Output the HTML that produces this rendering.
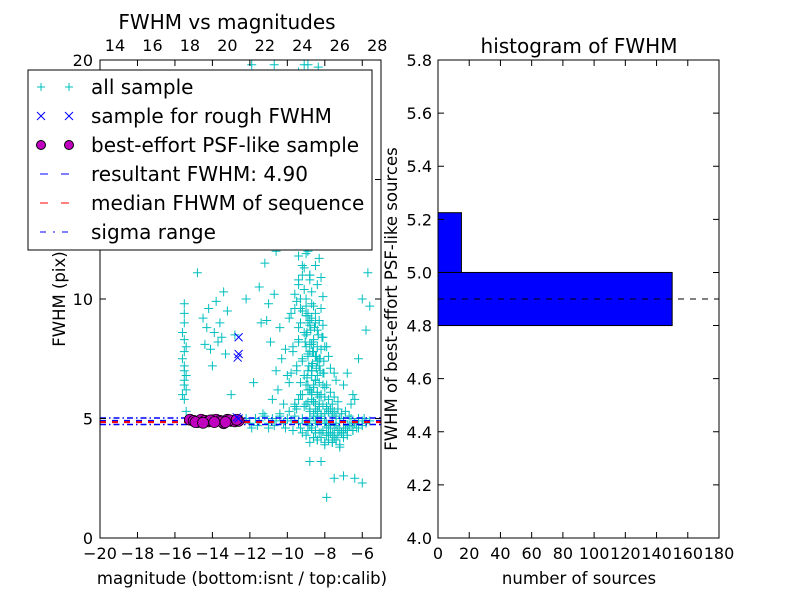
<!DOCTYPE html>
<html><head><meta charset="utf-8"><style>
body{margin:0;background:#fff;}
svg{display:block;font-family:"DejaVu Sans","Liberation Sans",sans-serif;}
</style></head><body>
<svg id="fig" width="800" height="600" viewBox="0 0 800 600">
<rect width="800" height="600" fill="#fff"/>
<g id="L"></g>
<g id="R"></g>
</svg>
<script>
// ---- left panel data ----
const allMag = [-15.5,-15.5,-15.6,-15.5,-15.4,-15.5,-15.6,-15.5,-15.5,-15.4,-15.5,-15.5,-15.4,-15.6,-15.5,-15.5,-15.4,
 -14.5,-14.3,-14.2,-14.4,-13.8,-13.6,-13.5,-13.9,-14.1,-13.3,-13.7,-12.8,-14.8,-13.4,-14.0,-13.2,-12.2,-13.0,
 -12.2,-12.0,-11.7,-11.5,-11.2,-11.0,-10.8,-10.6,-10.4,-10.2,-10.0,-9.8,-9.6,-9.4,-9.2,-9.0,-8.8,-8.6,-8.4,-8.2,-8.0,-7.8,-7.6,-7.4,-7.2,-7.0,-6.8,-6.6,-6.4,-6.2,-6.0,-5.8,-5.6,
 -11.9,-11.6,-11.3,-11.0,-10.7,-10.4,-10.1,-9.9,-9.7,-9.5,-9.3,-9.1,-8.9,-8.7,-8.5,-8.3,-8.1,-7.9,-7.7,-7.5,-7.3,-7.1,-6.9,-6.7,-6.5,-6.3,
 -9.0,-8.6,-8.2,-7.8,-7.4,-7.0,-8.8,-8.4,-8.0,-7.6,-9.2,-7.2,-6.8,-8.2,-7.5,-7.0,-6.4,-6.0,-8.8,-7.9,-6.4,
 -9.6,-9.4,-9.2,-9.0,-8.8,-8.6,-8.4,-8.2,-8.0,-7.8,-7.6,-9.3,-9.1,-8.9,-8.7,-8.5,-8.3,-8.1,-7.9,-7.7,-7.5,-7.3,
 -9.5,-9.2,-8.9,-8.6,-8.3,-8.0,-7.7,-7.4,-9.4,-9.0,-8.7,-8.4,-8.1,-7.8,-7.5,-9.3,-8.9,-8.5,-8.2,-7.9,
 -9.0,-8.7,-8.4,-8.1,-8.8,-8.5,-8.2,-8.9,-8.6,-8.3,-8.7,-8.4,-9.1,-8.8,-8.5,-8.6,-8.3,-8.8,-8.5,-8.7,-8.4,
 -10.8,-10.5,-10.2,-9.9,-10.6,-10.3,-10.0,-9.7,-10.9,-10.4,-10.1,-9.8,-11.4,-11.0,-10.7,-11.2,-11.5,-10.6,-11.8,-11.1,
 -9.6,-9.3,-9.0,-8.7,-9.8,-9.5,-9.2,-8.9,-9.7,-9.4,-9.1,-8.8,-9.9,-9.6,-9.3,-9.0,-9.4,-9.1,-8.8,-9.5,-9.2,
 -9.6,-9.0,-8.4,-10.0,-9.3,-8.8,-10.4,-9.7,-9.1,-10.2,-9.5,-8.6,-10.0,-9.4,-8.9,-11.9,-10.7,-9.1,-8.35,-8.5,
 -7.0,-6.5,-6.2,-5.8,-5.6,-6.0,-5.7,-6.8,-7.3,-6.6,
 -8.9,-8.7,-8.5,-8.3,-8.1,-8.95,-8.75,-8.55,-8.35,-8.15,-9.05,-8.8,-8.6,-8.4,-8.2,-8.9,-8.65,-8.45,-8.25,-8.05,
 -8.85,-8.65,-8.45,-8.25,-8.05,-8.95,-8.7,-8.5,-8.3,-8.1,-8.8,-8.6,-8.4,-8.2,-8.0,-8.9,-8.7,-8.5,-8.3,-7.9,
 -8.8,-8.6,-8.4,-8.2,-8.0,-7.8,-7.6,-7.4,-8.7,-8.5,-8.3,-8.1,-7.9,-7.7,-7.5,-7.3,-8.6,-8.4,-8.2,-8.0,
 -7.8,-7.6,-7.4,-7.2,-7.0,-8.5,-8.3,-8.1,-7.9,-7.7,-7.5,-7.3,-7.1,-6.9,-6.7,-9.2,-9.4,-9.0,-9.6,-9.8,
 -9.3,-9.1,-8.9,-9.5,-9.7,-9.2,-9.0,-9.4,-8.8,-9.6,-9.1,-9.3,-8.7,-9.5,-8.9,-9.2,-9.0,-8.6,-9.4,-8.8,
 -8.6,-8.8,-8.4,-8.7,-8.5,-8.9,-8.3,-8.6,-8.8,-8.4,-8.7,-8.5,-8.2,-9.0,-8.6,-8.8,-8.4,-8.7,-8.9,-8.5,
 -7.9,-7.7,-7.5,-7.3,-7.1,-6.9,-6.7,-6.5,-8.0,-7.8,-7.6,-7.4,-7.2,-7.0,-6.8,-6.6,-6.4,-6.2,-6.0,-5.9];
const allFwhm = [9.4,9.0,8.6,8.3,8.0,7.8,7.5,7.2,7.0,6.8,6.6,6.4,6.2,6.0,5.8,9.8,5.3,
 9.2,8.8,9.6,8.1,9.9,9.0,8.4,8.6,7.9,7.7,8.2,8.5,11.1,10.3,7.2,9.5,10.0,6.0,
 5.0,4.8,5.0,4.9,5.1,4.8,5.0,4.9,5.1,4.8,5.0,4.9,5.1,4.8,5.0,4.9,4.7,5.1,4.8,5.0,4.9,4.7,5.1,4.8,5.0,4.9,4.7,5.0,4.8,5.0,4.9,4.8,4.9,
 4.6,4.7,5.2,4.6,4.7,5.2,4.6,5.3,4.5,5.4,4.6,5.5,4.5,4.6,4.4,5.6,4.5,4.4,4.6,4.3,4.5,4.4,4.6,4.7,4.5,4.6,
 4.3,4.2,4.4,4.3,4.1,4.2,4.0,4.1,3.9,4.0,4.4,3.8,4.3,3.2,2.5,2.6,2.5,2.3,3.2,1.7,5.8,
 5.5,5.8,6.0,5.6,6.2,5.7,6.0,5.9,6.3,5.8,5.6,6.5,6.8,6.4,7.0,6.6,7.2,6.9,6.4,6.1,5.9,5.7,
 7.0,7.4,7.6,7.8,7.5,8.0,7.1,6.6,8.2,8.5,8.1,8.7,8.4,7.6,6.9,9.0,9.3,9.0,9.6,8.0,
 10.0,10.3,10.6,10.1,11.0,11.4,10.9,12.0,12.3,11.7,13.0,12.6,12.8,13.6,13.3,14.2,14.0,15.0,15.5,16.0,16.6,
 5.8,6.2,5.6,6.5,7.0,7.5,6.8,7.8,8.2,8.8,7.9,9.4,9.0,9.8,10.2,11.5,10.5,12.0,6.5,9.1,
 5.6,6.0,6.4,6.1,6.9,7.2,7.5,7.0,8.0,8.3,8.6,8.9,9.2,9.6,10.0,9.7,10.8,11.3,11.0,12.5,13.0,
 13.8,14.5,14.0,15.2,16.0,17.0,16.5,17.8,18.5,18.0,19.0,19.2,14.8,19.5,19.8,19.8,19.8,19.8,19.7,16.8,
 6.4,6.0,7.5,8.7,9.7,10.0,11.1,6.9,5.4,5.6,
 9.0,9.2,9.4,9.1,8.9,8.6,8.7,8.8,8.5,8.4,8.2,8.1,8.3,8.0,7.9,7.7,7.8,7.6,7.5,7.4,
 7.2,7.3,7.1,7.0,6.9,6.7,6.8,6.6,6.5,6.4,6.2,6.3,6.1,6.0,5.9,5.7,5.8,5.6,5.5,5.4,
 5.3,5.2,5.3,5.1,5.2,5.3,5.2,5.1,4.6,4.5,4.4,4.5,4.3,4.4,4.2,4.3,4.2,4.1,4.2,4.0,
 4.1,4.0,4.1,3.9,4.4,5.4,5.5,5.6,5.5,5.4,5.3,5.4,5.2,5.3,5.1,11.0,11.8,12.5,13.5,14.5,
 15.5,16.2,17.0,12.8,13.2,11.4,11.9,10.6,10.8,10.2,10.4,9.6,9.8,9.9,9.4,9.5,9.3,9.7,8.8,9.1,
 8.2,7.8,7.4,7.0,6.6,6.2,5.9,5.7,5.4,6.8,7.2,7.6,5.2,8.0,6.4,5.0,5.1,6.0,4.8,4.9,
 4.8,4.7,4.6,4.5,4.4,4.6,4.7,4.5,4.8,4.6,4.4,4.7,4.5,4.6,4.5,4.7,4.8,4.6,4.7,5.0];
const roughMag = [-12.6,-12.6,-12.65,-12.6,-12.7];
const roughFwhm = [8.4,7.7,7.55,5.0,5.05];
const psfMag = [-15.2,-15.0,-14.8,-14.6,-14.4,-14.2,-14.0,-13.8,-13.6,-13.4,-13.2,-13.0,-12.8,-12.6,-14.9,-14.1,-13.5,-13.1,-12.7,-14.5,-13.9,-13.3];
const psfFwhm = [4.95,4.9,4.85,4.95,4.9,4.88,4.92,4.95,4.9,4.8,4.95,4.9,4.88,4.9,4.85,4.92,4.87,4.93,4.95,4.82,4.85,4.85];
const resultFwhm = 4.90, medianFwhm = 4.85, sigmaLo = 4.75, sigmaHi = 5.02;
const xTicksBottom = [-20,-18,-16,-14,-12,-10,-8,-6];
const xTicksTop = [14,16,18,20,22,24,26,28];
const yTicksLeft = [0,5,10,15,20];
// ---- right panel data ----
const binEdges = [4.8,5.0,5.225];
const binCounts = [150,15];
const xTicksRight = [0,20,40,60,80,100,120,140,160,180];
const yTicksRight = [4.0,4.2,4.4,4.6,4.8,5.0,5.2,5.4,5.6,5.8];

const NS="http://www.w3.org/2000/svg";
function mk(parent,tag,attrs,name,text){const e=document.createElementNS(NS,tag);for(const k in attrs)e.setAttribute(k,attrs[k]);


if(text!==undefined)e.textContent=text;parent.appendChild(e);return e;}

// left axes
const L=document.getElementById('L');
const lx0=100,lx1=381,ly0=538,ly1=60;
const xL=v=>lx0+(v+20)/15*(lx1-lx0);
const xT=v=>xL(v-33.2);
const yL=v=>ly0-v/20*(ly0-ly1);
const clipL=mk(L,'clipPath',{id:'cl'},'left-clip');mk(clipL,'rect',{x:lx0,y:ly1,width:lx1-lx0,height:ly0-ly1},'left-clip-rect');
const pts=mk(L,'g',{'clip-path':'url(#cl)'},'all-sample-series');
for(let i=0;i<allMag.length;i++){const x=xL(allMag[i]),y=yL(allFwhm[i]);
 mk(pts,'path',{d:`M${x-4.5},${y}h9M${x},${y-4.5}v9`,stroke:'#00bfbf','stroke-width':1},'all-sample-point');}
const lines=mk(L,'g',{'clip-path':'url(#cl)'},'reference-lines');
mk(lines,'line',{x1:lx0,x2:lx1,y1:yL(resultFwhm),y2:yL(resultFwhm),stroke:'#0000ff','stroke-width':2,'stroke-dasharray':'6,6'},'resultant-fwhm-line');
mk(lines,'line',{x1:lx0,x2:lx1,y1:yL(medianFwhm),y2:yL(medianFwhm),stroke:'#ff0000','stroke-width':2,'stroke-dasharray':'6,6'},'median-fwhm-line');
[sigmaLo,sigmaHi].forEach(v=>mk(lines,'line',{x1:lx0,x2:lx1,y1:yL(v),y2:yL(v),stroke:'#0000ff','stroke-width':1.5,'stroke-dasharray':'6,3,1.5,3'},'sigma-range-line'));
const psf=mk(L,'g',{},'psf-like-series');
for(let i=0;i<psfMag.length;i++)mk(psf,'circle',{cx:xL(psfMag[i]),cy:yL(psfFwhm[i]),r:5.5,fill:'#bf00bf',stroke:'#000','stroke-width':0.7},'psf-point');
const rough=mk(L,'g',{},'rough-sample-series');
for(let i=0;i<roughMag.length;i++){const x=xL(roughMag[i]),y=yL(roughFwhm[i]);
 mk(rough,'path',{d:`M${x-4},${y-4}l8,8M${x-4},${y+4}l8,-8`,stroke:'#0000ff','stroke-width':1},'rough-point');}
mk(L,'rect',{x:lx0,y:ly1,width:lx1-lx0,height:ly0-ly1,fill:'none',stroke:'#000','stroke-width':1},'left-axes-frame');
xTicksBottom.forEach(v=>{const x=xL(v);mk(L,'path',{d:`M${x},${ly0}v-6M${x},${ly1}v6`,stroke:'#000'},'x-tick');
 mk(L,'text',{x:x,y:ly0+21,'font-size':16,'text-anchor':'middle'},'x-tick-label',v<0?'\u2212'+(-v):v);});
xTicksTop.forEach(v=>{const x=xT(v);mk(L,'text',{x:x,y:ly1-9,'font-size':16,'text-anchor':'middle'},'top-tick-label',v);});
yTicksLeft.forEach(v=>{const y=yL(v);mk(L,'path',{d:`M${lx0},${y}h6M${lx1},${y}h-6`,stroke:'#000'},'y-tick');
 mk(L,'text',{x:lx0-7,y:y+6,'font-size':16,'text-anchor':'end'},'y-tick-label',v);});
mk(L,'text',{x:242,y:584,'font-size':16.5,'text-anchor':'middle'},'x-axis-title','magnitude (bottom:isnt / top:calib)');
mk(L,'text',{x:65,y:299,'font-size':16.5,'text-anchor':'middle',transform:'rotate(-90 65 299)'},'y-axis-title','FWHM (pix)');
mk(L,'text',{x:227,y:29,'font-size':20,'text-anchor':'middle'},'left-title','FWHM vs magnitudes');

// right axes
const R=document.getElementById('R');
const rx0=438,rx1=719,ry0=538,ry1=60;
const xR=v=>rx0+v/180*(rx1-rx0);
const yR=v=>ry0-(v-4.0)/1.8*(ry0-ry1);
for(let i=0;i<binCounts.length;i++)mk(R,'rect',{x:xR(0),y:yR(binEdges[i+1]),width:xR(binCounts[i])-xR(0),height:yR(binEdges[i])-yR(binEdges[i+1]),fill:'#0000ff',stroke:'#000'},'histogram-bar');
mk(R,'line',{x1:rx0,x2:rx1,y1:yR(resultFwhm),y2:yR(resultFwhm),stroke:'#000','stroke-dasharray':'6,6'},'resultant-fwhm-line');
mk(R,'rect',{x:rx0,y:ry1,width:rx1-rx0,height:ry0-ry1,fill:'none',stroke:'#000'},'right-axes-frame');
xTicksRight.forEach(v=>{const x=xR(v);mk(R,'path',{d:`M${x},${ry0}v-6M${x},${ry1}v6`,stroke:'#000'},'x-tick');
 mk(R,'text',{x:x,y:ry0+21,'font-size':16,'text-anchor':'middle'},'x-tick-label',v);});
yTicksRight.forEach(v=>{const y=yR(v);mk(R,'path',{d:`M${rx0},${y}h6M${rx1},${y}h-6`,stroke:'#000'},'y-tick');
 mk(R,'text',{x:rx0-6,y:y+6,'font-size':16,'text-anchor':'end'},'y-tick-label',v.toFixed(1));});
mk(R,'text',{x:579,y:584,'font-size':16.5,'text-anchor':'middle'},'x-axis-title','number of sources');
mk(R,'text',{x:397,y:299,'font-size':16.5,'text-anchor':'middle',transform:'rotate(-90 397 299)'},'y-axis-title','FWHM of best-effort PSF-like sources');
mk(R,'text',{x:579,y:53,'font-size':20,'text-anchor':'middle'},'right-title','histogram of FWHM');

// legend
const G=mk(document.getElementById('fig'),'g',{},'legend');
mk(G,'rect',{x:28,y:70,width:344,height:180,fill:'#fff',stroke:'#000'},'legend-box');
const items=[['all sample','plus'],['sample for rough FWHM','x'],['best-effort PSF-like sample','dot'],['resultant FWHM: 4.90','bdash'],['median FHWM of sequence','rdash'],['sigma range','dashdot']];
items.forEach((it,i)=>{const y=87+i*29;const e=mk(G,'g',{},'legend-entry');
 [41,69].forEach(x=>{
  if(it[1]==='plus')mk(e,'path',{d:`M${x-4},${y}h8M${x},${y-4}v8`,stroke:'#00bfbf'},'legend-marker');
  if(it[1]==='x')mk(e,'path',{d:`M${x-4},${y-4}l8,8M${x-4},${y+4}l8,-8`,stroke:'#0000ff'},'legend-marker');
  if(it[1]==='dot')mk(e,'circle',{cx:x,cy:y,r:4.5,fill:'#bf00bf',stroke:'#000'},'legend-marker');});
 if(it[1]==='bdash')mk(e,'path',{d:`M40,${y}h8M61,${y}h8`,stroke:'#0000ff'},'legend-line');
 if(it[1]==='rdash')mk(e,'path',{d:`M40,${y}h8M61,${y}h8`,stroke:'#ff0000'},'legend-line');
 if(it[1]==='dashdot')mk(e,'path',{d:`M40,${y}h6M53,${y}h2M62,${y}h6`,stroke:'#0000ff'},'legend-line');
 mk(e,'text',{x:91,y:y+7,'font-size':20},'legend-label',it[0]);});
</script>
</body></html>
